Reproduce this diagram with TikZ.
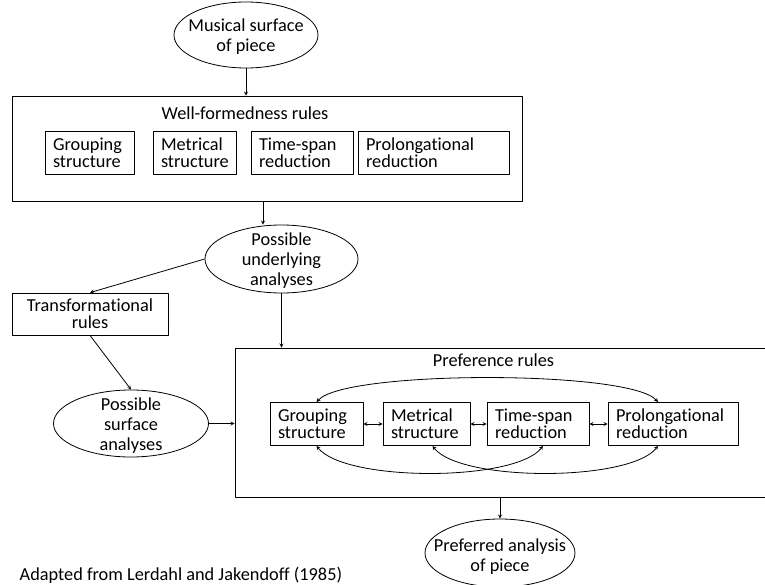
\documentclass[tikz,border=0pt]{standalone}
\usepackage{fontspec}
\setmainfont{Carlito}[Ligatures=NoCommon]
\usetikzlibrary{shapes.geometric}
\newcommand\rulefont{\fontsize{18.3}{17}\selectfont}
\newcommand\stagefont{\fontsize{18.3}{20}\selectfont}
\tikzset{
	frame/.style={draw, line width=0.8pt, inner sep=0pt},
	rulebox/.style={draw, line width=0.8pt, align=left, inner xsep=8pt, inner ysep=0pt, minimum height=43pt, text width=#1, font=\rulefont},
	stage/.style={draw, ellipse, line width=0.8pt, inner sep=0pt},
	stagetext/.style={align=center, font=\stagefont},
	title/.style={font=\stagefont},
}
\begin{document}
\begin{tikzpicture}[x=1pt, y=-1pt, >=stealth, line width=0.8pt, line join=round]
		\clip (0,0) rectangle (765,585);
		% ellipses
		\node[stage, minimum width=144pt, minimum height=66pt, label={[stagetext, yshift=-2pt]center:Musical surface\\of piece}] (musical) at (246,35) {};
		\node[stage, minimum width=153pt, minimum height=68pt, label={[stagetext, yshift=-2pt]center:Possible\\underlying\\analyses}] (under) at (281.5,259) {};
		\node[stage, minimum width=155pt, minimum height=67pt, label={[stagetext, yshift=-2pt]center:Possible\\surface\\analyses}] (surface) at (131,423.5) {};
		\node[stage, minimum width=150pt, minimum height=68pt, label={[stagetext, yshift=-4pt]center:Preferred analysis\\of piece}] (preferred) at (500,553) {};
		% well-formedness rules
		\node[frame, minimum width=510pt, minimum height=105pt] (wfr) at (267,148.5) {};
		\node[title] (wfrtitle) at (245,113) {Well-formedness rules};
		\node[rulebox=73pt] (wgrp) at (89.5,152.5) {Grouping\\structure};
		\node[rulebox=67pt] (wmet) at (194.5,152.5) {Metrical\\structure};
		\node[rulebox=86pt] (wtsr) at (302,152.5) {Time-span\\reduction};
		\node[rulebox=135pt] (wpro) at (433.5,152.5) {Prolongational\\reduction};
		% transformational rules
		\node[frame, minimum width=156pt, minimum height=42pt, align=center, font=\rulefont] (trans) at (90,314) {Transformational\\rules};
		% preference rules
		\node[frame, minimum width=540pt, minimum height=149pt] (pref) at (505,422.5) {};
		\node[title] (preftitle) at (493.5,360) {Preference rules};
		\node[rulebox=77pt] (pgrp) at (316.5,424) {Grouping\\structure};
		\node[rulebox=71pt] (pmet) at (426.5,424) {Metrical\\structure};
		\node[rulebox=86pt] (ptsr) at (538,424) {Time-span\\reduction};
		\node[rulebox=114pt] (ppro) at (673,424) {Prolongational\\reduction};
		% caption
		\node[title, anchor=west] (source) at (16,575) {Adapted from Lerdahl and Jakendoff (1985)};
		% connectors
		\draw[->] (musical.south) -- (musical.south |- wfr.north);
		\draw[->] ([xshift=-4pt]wfr.south) -- ([xshift=-4pt]wfr.south |- under.north);
		\draw[->] (under.west) -- (trans.north);
		\draw[->] (under.south) -- (under.south |- pref.north);
		\draw[->] (trans.south) -- (surface.north);
		\draw[->] (surface.east) -- (surface.east -| pref.west);
		\draw[->] (preferred.north |- pref.south) -- (preferred.north);
		\draw[<->] (pgrp) -- (pmet);
		\draw[<->] (pmet) -- (ptsr);
		\draw[<->] (ptsr) -- (ppro);
		\draw[<->] (pgrp.north) .. controls (345,370) and (630,370) .. ([xshift=-15pt]ppro.north);
		\draw[<->] (pgrp.south) .. controls (345,482) and (515,482) .. ([xshift=5pt]ptsr.south);
		\draw[<->] ([xshift=6pt]pmet.south) .. controls (460,482) and (630,482) .. ([xshift=-15pt]ppro.south);
\end{tikzpicture}
\end{document}
